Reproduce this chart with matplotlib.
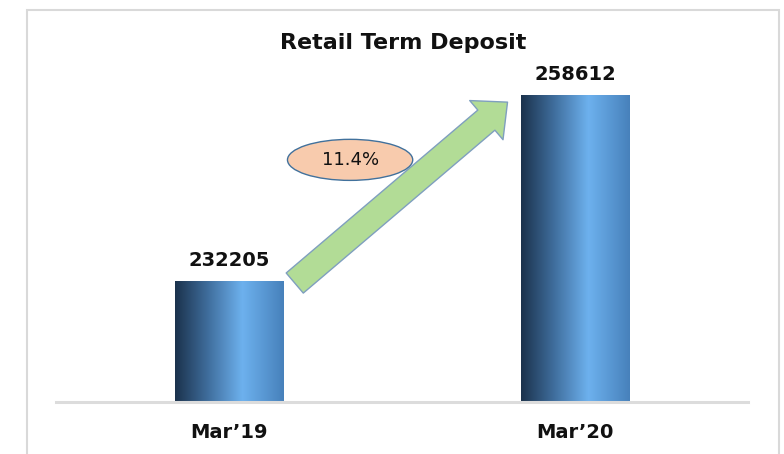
import matplotlib

matplotlib.use("Agg")
import matplotlib.pyplot as plt
import numpy as np
from matplotlib.colors import LinearSegmentedColormap
from matplotlib.patches import Ellipse, Rectangle

# data
periods = ["Mar\u201919", "Mar\u201920"]
deposits = [232205, 258612]
growth_label = "11.4%"
chart_title = "Retail Term Deposit"

BAR_WIDTH = 0.313
Y_MIN, Y_MAX = 215000, 263600

bar_cmap = LinearSegmentedColormap.from_list(
    "bar_grad",
    [(0.0, "#1b324c"), (0.3, "#3f6d9c"), (0.62, "#6db1ee"), (1.0, "#4781bb")],
)

fig = plt.figure(figsize=(7.84, 4.54), dpi=100)
ax = fig.add_axes([56 / 784, 52 / 454, 692 / 784, 342 / 454])

x = np.arange(len(periods))
bars = ax.bar(x, deposits, width=BAR_WIDTH, bottom=0, color="none", edgecolor="none", zorder=2)

# horizontal gradient inside each bar
grad = np.linspace(0, 1, 256).reshape(1, -1)
for bar in bars:
    x0 = bar.get_x()
    x1 = x0 + bar.get_width()
    img = ax.imshow(
        grad,
        cmap=bar_cmap,
        aspect="auto",
        extent=(x0, x1, Y_MIN, bar.get_height()),
        zorder=2,
        interpolation="bilinear",
    )
    img.set_clip_path(bar)

for xi, val in zip(x, deposits):
    ax.annotate(
        f"{val}",
        xy=(xi, val),
        xytext=(0, 15),
        textcoords="offset points",
        ha="center",
        va="center",
        fontsize=14,
        fontweight="bold",
        color="#111111",
    )

ax.set_xlim(-0.5, 1.5)
ax.set_ylim(Y_MIN, Y_MAX)
ax.set_xticks(x)
ax.set_xticklabels(periods, fontsize=14, fontweight="bold", color="#111111")
ax.tick_params(axis="x", length=0, pad=15)
ax.set_yticks([])
for side in ["top", "right", "left"]:
    ax.spines[side].set_visible(False)
ax.spines["bottom"].set_color("#dcdcdc")
ax.spines["bottom"].set_linewidth(2.2)

# growth arrow between the bars
ax.annotate(
    "",
    xy=(x[1] - 0.195, deposits[1] - 1000),
    xytext=(x[0] + 0.19, deposits[0] - 300),
    arrowprops=dict(
        arrowstyle="simple,head_length=20,head_width=37,tail_width=19",
        mutation_scale=1,
        shrinkA=0,
        shrinkB=0,
        fc="#b2dc96",
        ec="#7f9fbf",
        lw=1.0,
    ),
    zorder=3,
)

ax.add_patch(
    Ellipse(
        (0.425, 0.708),
        0.181,
        0.12,
        transform=ax.transAxes,
        fc="#f8cbad",
        ec="#41719c",
        lw=1.0,
        zorder=4,
    )
)
ax.text(0.425, 0.708, growth_label, transform=ax.transAxes, ha="center", va="center",
        fontsize=13, color="#111111", zorder=5)

fig.text(403 / 784, (454 - 43) / 454, chart_title, ha="center", va="center",
         fontsize=16, fontweight="bold", color="#111111")

# outer chart frame (bottom runs off the image)
fig.patches.append(
    Rectangle(
        (27 / 784, -0.1),
        (779 - 27) / 784,
        (454 - 10) / 454 + 0.1,
        transform=fig.transFigure,
        fill=False,
        ec="#d9d9d9",
        lw=1.5,
    )
)

fig.savefig("out.png", dpi=100)
